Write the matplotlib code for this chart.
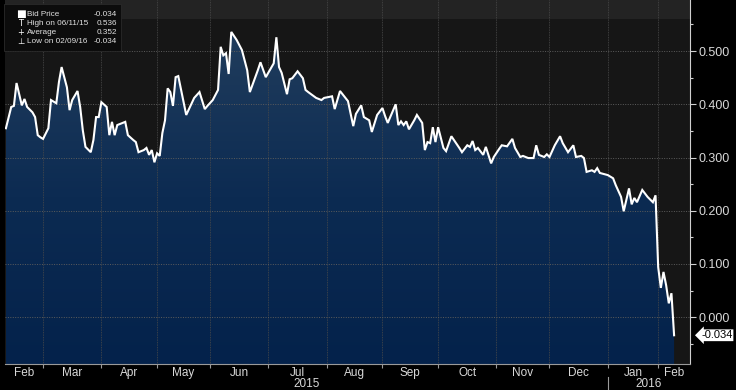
import numpy as np
import matplotlib
matplotlib.use('Agg')
import matplotlib.pyplot as plt
from matplotlib.patches import Polygon, Rectangle
from matplotlib.colors import LinearSegmentedColormap
import matplotlib.transforms as mtransforms

# trading-day axis starting 2015-02-09
start_date = '2015-02-09'
holidays = ['2015-02-16', '2015-04-03', '2015-05-25', '2015-07-03', '2015-09-07',
            '2015-11-26', '2015-12-25', '2016-01-01', '2016-01-18']
month_starts = ['2015-03-01', '2015-04-01', '2015-05-01', '2015-06-01', '2015-07-01',
                '2015-08-01', '2015-09-01', '2015-10-01', '2015-11-01', '2015-12-01',
                '2016-01-01', '2016-02-01']
month_names = ['Feb', 'Mar', 'Apr', 'May', 'Jun', 'Jul', 'Aug', 'Sep', 'Oct', 'Nov',
               'Dec', 'Jan', 'Feb']
year_names = ['2015', '2016']

# trading day number since start_date, bid price
day = [0, 2, 3, 4, 6, 7, 8, 10, 11, 12, 13, 14, 16, 17, 19, 20, 21, 23, 24, 25,
       27, 28, 29, 30, 32, 33, 34, 35, 36, 38, 39, 40, 41, 42, 43, 45, 46, 48, 49, 50,
       52, 53, 54, 55, 56, 57, 58, 59, 60, 61, 62, 63, 64, 65, 67, 68, 71, 73, 75, 76,
       78, 80, 81, 82, 83, 84, 85, 87, 89, 91, 92, 95, 96, 98, 101, 102, 103, 104, 106, 107,
       108, 110, 112, 113, 114, 117, 119, 120, 123, 124, 126, 129, 131, 132, 134, 135, 137, 138, 140, 142,
       143, 144, 147, 148, 149, 150, 151, 152, 154, 155, 157, 158, 159, 160, 161, 162, 163, 165, 166, 168,
       171, 172, 174, 175, 176, 177, 178, 180, 181, 183, 184, 186, 187, 189, 191, 192, 194, 195, 197, 199,
       200, 201, 203, 204, 205, 207, 209, 210, 212, 214, 215, 217, 218, 219, 221, 222, 223, 224, 227, 229,
       230, 232, 233, 235, 236, 237, 238, 240, 242, 244, 245, 246, 247, 248, 249, 250, 251, 252]
bid = [0.355, 0.395, 0.397, 0.440, 0.398, 0.410, 0.395, 0.385, 0.376, 0.342, 0.338, 0.335, 0.355, 0.408, 0.402, 0.442, 0.470, 0.432, 0.389, 0.408,
       0.425, 0.395, 0.351, 0.320, 0.310, 0.333, 0.376, 0.376, 0.404, 0.395, 0.342, 0.367, 0.342, 0.361, 0.363, 0.367, 0.342, 0.333, 0.329, 0.310,
       0.314, 0.318, 0.305, 0.314, 0.291, 0.308, 0.303, 0.346, 0.370, 0.430, 0.423, 0.397, 0.451, 0.453, 0.404, 0.380, 0.412, 0.423, 0.391, 0.397,
       0.408, 0.427, 0.508, 0.492, 0.496, 0.457, 0.536, 0.521, 0.502, 0.464, 0.423, 0.464, 0.479, 0.451, 0.477, 0.526, 0.470, 0.459, 0.419, 0.447,
       0.449, 0.462, 0.449, 0.427, 0.423, 0.412, 0.408, 0.412, 0.415, 0.391, 0.425, 0.406, 0.359, 0.382, 0.398, 0.376, 0.370, 0.348, 0.380, 0.393,
       0.378, 0.365, 0.400, 0.361, 0.368, 0.361, 0.368, 0.353, 0.370, 0.380, 0.365, 0.314, 0.329, 0.327, 0.357, 0.329, 0.357, 0.318, 0.312, 0.340,
       0.318, 0.310, 0.323, 0.320, 0.331, 0.314, 0.318, 0.305, 0.320, 0.289, 0.301, 0.316, 0.323, 0.321, 0.335, 0.318, 0.301, 0.303, 0.299, 0.299,
       0.323, 0.305, 0.301, 0.306, 0.301, 0.323, 0.340, 0.327, 0.310, 0.323, 0.301, 0.303, 0.299, 0.273, 0.276, 0.273, 0.280, 0.271, 0.267, 0.261,
       0.248, 0.226, 0.199, 0.242, 0.212, 0.224, 0.216, 0.239, 0.226, 0.216, 0.229, 0.094, 0.055, 0.085, 0.060, 0.026, 0.045, -0.034]
average = 0.352

x = np.array(day, dtype=float)
y = np.array(bid)
bd_kw = dict(holidays=holidays)


def day_to_date(d):
    return np.busday_offset(start_date, int(d), roll='forward', **bd_kw)


def fmt_date(d):
    s = str(day_to_date(d))
    return '%s/%s/%s' % (s[5:7], s[8:10], s[2:4])


xmin, xmax = -0.5, 258.0
ymin, ymax = -0.088, 0.596

W, H = 736, 390
fig = plt.figure(figsize=(W / 100, H / 100), dpi=100, facecolor='black')
plt.rcParams['font.family'] = ['Liberation Sans', 'DejaVu Sans']
ax = fig.add_axes([4.6 / W, 26 / H, 685.4 / W, 364 / H])
ax.set_facecolor('#161616')

# background band at the top
ax.axhspan(0.56, ymax, color='#232323', zorder=0, lw=0)

# gradient fill under the line
verts = np.vstack([np.column_stack([x, y]), [[x[-1], ymin], [x[0], ymin]]])
clip = Polygon(verts, closed=True, transform=ax.transData, facecolor='none', edgecolor='none')
ax.add_patch(clip)
cmap = LinearSegmentedColormap.from_list('fill', ['#04224b', '#0c2b52', '#213d5d'])
grad = np.linspace(0, 1, 256).reshape(-1, 1)
im = ax.imshow(grad, extent=[x[0], x[-1], ymin, 0.54], origin='lower', aspect='auto',
               cmap=cmap, zorder=1, interpolation='bilinear')
im.set_clip_path(clip)

ax.plot(x, y, color='white', lw=1.5, zorder=4, solid_joinstyle='miter')

# month ticks on trading-day axis
mpos = np.array([np.busday_count(start_date, m, **bd_kw) for m in month_starts], dtype=float)
for p in mpos:
    ax.axvline(p, color='#4a4a4a', lw=0.6, ls=(0, (1, 1)), zorder=3)
for v in np.arange(0.0, 0.51, 0.1):
    ax.axhline(v, color='#5c5c5c', lw=0.7, ls=(0, (1, 1.5)), zorder=3)

ax.set_xlim(xmin, xmax)
ax.set_ylim(ymin, ymax)

ax.set_xticks(mpos)
ax.set_xticklabels([])
ax.tick_params(axis='x', length=3, color='#9a9a9a', width=0.8)

edges = np.concatenate([[xmin], mpos, [xmax]])
trans = mtransforms.blended_transform_factory(ax.transData, ax.transAxes)
for i, name in enumerate(month_names):
    c = (edges[i] + edges[i + 1]) / 2
    ax.text(c, -0.024, name, transform=trans, ha='center', va='center',
            color='#d8d8d8', fontsize=8.5)
jan = mpos[month_starts.index('2016-01-01')]
for name, a, b in [(year_names[0], xmin, jan), (year_names[1], jan, xmax)]:
    ax.text((a + b) / 2, -0.054, name, transform=trans, ha='center', va='center',
            color='#d8d8d8', fontsize=8.5)
ax.plot([jan, jan], [-0.036, -0.075], transform=trans, color='#9a9a9a', lw=0.8, clip_on=False)

ax.yaxis.tick_right()
ax.set_yticks(np.arange(0.0, 0.51, 0.1))
ax.set_yticklabels(['%.3f' % v for v in np.arange(0.0, 0.51, 0.1)])
ax.set_yticks(np.arange(-0.05, 0.6, 0.1), minor=True)
ax.tick_params(axis='y', which='major', length=4, width=0.8, color='#d0d0d0',
               labelcolor='#d8d8d8', labelsize=9, pad=2)
ax.tick_params(axis='y', which='minor', length=2, width=0.8, color='#d0d0d0')

for s in ['top', 'left']:
    ax.spines[s].set_visible(False)
ax.spines['right'].set_color('#d0d0d0')
ax.spines['bottom'].set_color('#9a9a9a')

# last value tag
ax.annotate('%.3f' % y[-1], xy=(1.0, y[-1]), xycoords=('axes fraction', 'data'),
            xytext=(8, 0), textcoords='offset points', va='center', ha='left',
            fontsize=8, color='black', annotation_clip=False,
            bbox=dict(boxstyle='larrow,pad=0.08', fc='white', ec='none'))

# legend box
hi = int(np.argmax(y))
lo = int(np.argmin(y))
rows = [('\u25a0', 'Bid Price', '%.3f' % y[-1]),
        ('T', 'High on ' + fmt_date(x[hi]), '%.3f' % y[hi]),
        ('+', 'Average', '%.3f' % average),
        ('\u22a5', 'Low on ' + fmt_date(x[lo]), '%.3f' % y[lo])]
fig.add_artist(Rectangle((4 / W, 1 - 51 / H), 117 / W, 47 / H, transform=fig.transFigure,
                         facecolor='#0c0c0c', edgecolor='#2a2a2a', lw=0.6, zorder=5))
for i, (icon, label, val) in enumerate(rows):
    yy = 1 - (14 + 9.3 * i) / H
    fig.text(21 / W, yy, icon, color='white', fontsize=6 if i else 7.5, ha='center',
             va='center', zorder=6, family=['DejaVu Sans'])
    fig.text(27 / W, yy, label, color='#e0e0e0', fontsize=5.9, va='center', zorder=6)
    fig.text(117 / W, yy, val, color='#e0e0e0', fontsize=5.9, va='center', ha='right', zorder=6)

fig.savefig('out.png', dpi=100, facecolor='black')
